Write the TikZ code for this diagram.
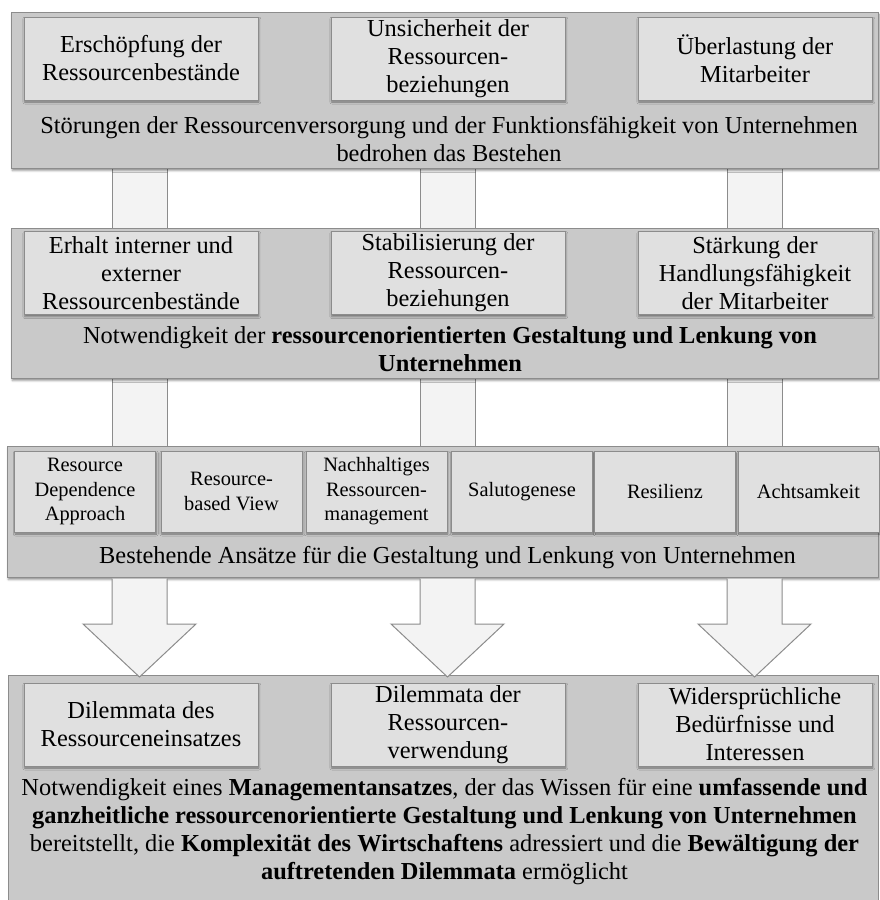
\documentclass[tikz,border=0pt]{standalone}
\usepackage{fontspec}
\setmainfont{Liberation Serif}
\usetikzlibrary{calc,shadows.blur}
\pgfdeclarelayer{background}
\pgfsetlayers{background,main}

\definecolor{panelgray}{RGB}{201,201,201}
\definecolor{boxgray}{RGB}{224,224,224}
\definecolor{bandgray}{RGB}{243,243,243}
\definecolor{edgegray}{RGB}{140,140,140}

\tikzset{
  softshadow/.style={blur shadow={shadow xshift=0.8pt, shadow yshift=-2pt,
      shadow blur radius=2pt, shadow opacity=45}},
  panel/.style={draw=edgegray, fill=panelgray, line width=1pt, anchor=north west,
      inner sep=0pt, softshadow},
  openpanel/.style={fill=panelgray, anchor=north west, inner sep=0pt},
  box/.style={draw=edgegray, fill=boxgray, line width=1pt, inner sep=0pt, align=center,
      minimum width=234pt, minimum height=83pt,
      font=\fontsize{24.4}{28}\selectfont, softshadow},
  smallbox/.style={box, minimum width=141pt, minimum height=81pt,
      font=\fontsize{20.4}{24.5}\selectfont},
  paneltext/.style={align=center, inner sep=0pt, font=\fontsize{24.4}{28}\selectfont},
  band/.style={fill=bandgray},
  edge/.style={draw=edgegray, line width=1pt},
  blockarrow/.style={draw=edgegray, fill=bandgray, line width=1pt, line join=miter},
}

\begin{document}
\begin{tikzpicture}[x=1pt, y=-1pt]
\useasboundingbox (0,0) rectangle (879,900);

% column axes of the connecting bands and arrows
\coordinate (k1) at (139.5,0);
\coordinate (k2) at (447.5,0);
\coordinate (k3) at (754.5,0);

% ---------- panel 1 ----------
\node[panel, minimum width=867pt, minimum height=156pt] (p1) at (11,12) {};
\node[box] (b11) at (141,58.5) {Erschöpfung der\\Ressourcenbestände};
\node[box] (b12) at (448,58.5) {Unsicherheit der\\Ressourcen-\\beziehungen};
\node[box] (b13) at (755,58.5) {Überlastung der\\Mitarbeiter};
\node[paneltext] (t1) at (449,139) {Störungen der Ressourcenversorgung und der Funktionsfähigkeit von Unternehmen\\bedrohen das Bestehen};

% ---------- panel 2 ----------
\node[panel, minimum width=867pt, minimum height=150pt] (p2) at (11,228) {};
\node[box] (b21) at (141,273) {Erhalt interner und\\externer\\Ressourcenbestände};
\node[box] (b22) at (448,273) {Stabilisierung der\\Ressourcen-\\beziehungen};
\node[box] (b23) at (755,273) {Stärkung der\\Handlungsfähigkeit\\der Mitarbeiter};
\node[paneltext] (t2) at (450,349) {Notwendigkeit der \textbf{ressourcenorientierten Gestaltung und Lenkung von}\\\textbf{Unternehmen}};

% ---------- panel 3 ----------
\node[panel, minimum width=871pt, minimum height=131pt] (p3) at (7,446) {};
\node[smallbox] (b31) at (85,491.5) {Resource\\Dependence\\Approach};
\node[smallbox] (b32) at (231.5,491.5) {Resource-\\based View};
\node[smallbox] (b33) at (376.5,491.5) {Nachhaltiges\\Ressourcen-\\management};
\node[smallbox] (b34) at (522,491.5) {Salutogenese};
\node[smallbox] (b35) at (665,491.5) {Resilienz};
\node[smallbox] (b36) at (808.5,491.5) {Achtsamkeit};
\node[paneltext] (t3) at (447.5,558) {Bestehende Ansätze für die Gestaltung und Lenkung von Unternehmen};

% ---------- panel 4 (runs past the lower edge, no bottom border) ----------
\node[openpanel, minimum width=870pt, minimum height=240pt] (p4) at (8,675) {};
\draw[edge] (p4.south west) -- (p4.north west) -- (p4.north east) -- (p4.south east);
\node[box] (b41) at (141,724.5) {Dilemmata des\\Ressourceneinsatzes};
\node[box] (b42) at (448,724.5) {Dilemmata der\\Ressourcen-\\verwendung};
\node[box] (b43) at (755,724.5) {Widersprüchliche\\Bedürfnisse und\\Interessen};
\node[paneltext] (t4) at (444.5,832) {Notwendigkeit eines \textbf{Managementansatzes}, der das Wissen für eine \textbf{umfassende und}\\\textbf{ganzheitliche ressourcenorientierte Gestaltung und Lenkung von Unternehmen}\\bereitstellt, die \textbf{Komplexität des Wirtschaftens} adressiert und die \textbf{Bewältigung der}\\\textbf{auftretenden Dilemmata} ermöglicht};

% ---------- bands between panels 1-2 and 2-3 ----------
\begin{pgfonlayer}{background}
\foreach \k in {k1,k2,k3}{
  \fill[band] ($(\k |- p1.south)+(-27.5,-5)$) rectangle ($(\k |- p3.north)+(27.5,5)$);
  \draw[edge] ($(\k |- p1.south)+(-27.5,-5)$) -- ($(\k |- p3.north)+(-27.5,5)$);
  \draw[edge] ($(\k |- p1.south)+(27.5,-5)$) -- ($(\k |- p3.north)+(27.5,5)$);
}
\end{pgfonlayer}

% ---------- block arrows from panel 3 to panel 4 ----------
\foreach \k in {k1,k2,k3}{
  \filldraw[blockarrow]
    ($(\k |- p3.south)+(-27.5,0.5)$) -- ($(\k |- p3.south)+(-27.5,46)$)
    -- ($(\k |- p3.south)+(-56.5,46)$) -- ($(\k |- p4.north)+(0,2)$)
    -- ($(\k |- p3.south)+(56.5,46)$) -- ($(\k |- p3.south)+(27.5,46)$)
    -- ($(\k |- p3.south)+(27.5,0.5)$);
}
\end{tikzpicture}
\end{document}
